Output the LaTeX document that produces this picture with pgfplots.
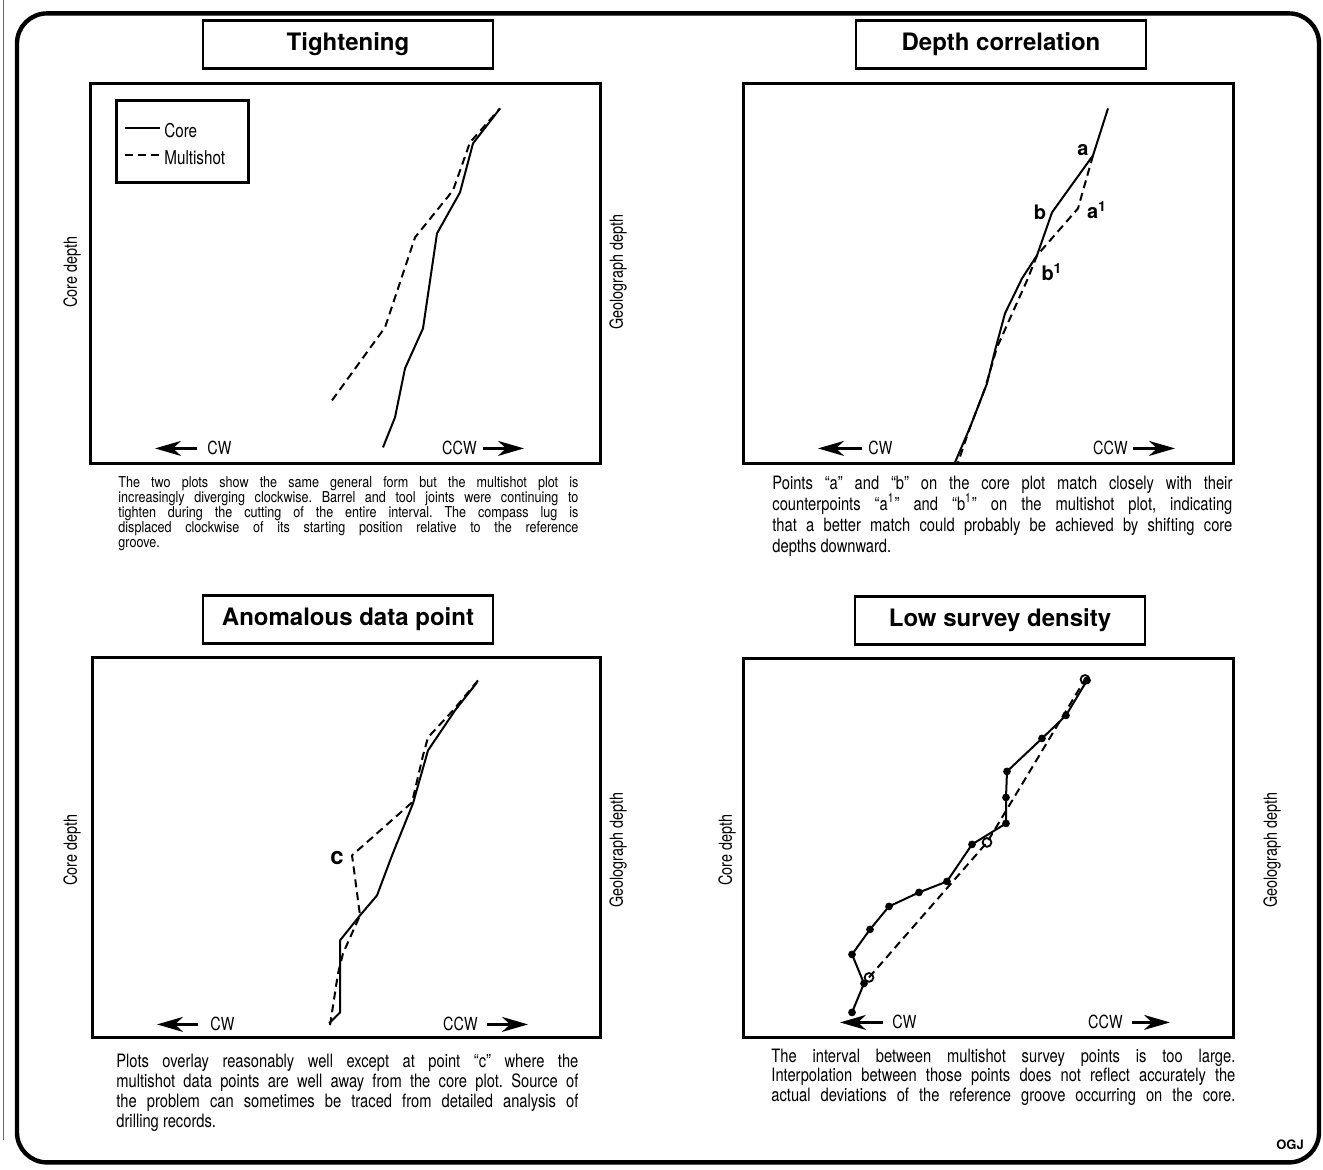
\documentclass[border=0pt]{standalone}
\usepackage{pgfplots}
\pgfplotsset{compat=1.18}
\usepackage{fontspec}
\setmainfont[Ligatures=TeX]{TeX Gyre Heros}
\newfontfamily\cond[FakeStretch=0.80,Ligatures=TeX]{TeX Gyre Heros}
\newfontfamily\condb[FakeStretch=0.84,Ligatures=TeX]{TeX Gyre Heros}
\usetikzlibrary{arrows.meta}
\frenchspacing

\pgfplotsset{
  panel/.style={scale only axis, anchor=south west, xtick=\empty, ytick=\empty,
    y dir=reverse, clip=false, axis line style={line width=1.5pt}},
  core/.style={black, line width=1pt, mark=none},
  multi/.style={black, line width=1pt, dash pattern=on 4pt off 2.5pt, mark=none},
}
\tikzset{
  cwarrow/.style={line width=1.1pt, -{Stealth[length=13pt,width=7.5pt,inset=4pt]}},
  dirlab/.style={font=\cond\fontsize{9}{10}\selectfont, inner sep=0pt},
  ttl/.style={draw, line width=1.3pt, minimum width=145pt, minimum height=24pt,
    font=\bfseries\fontsize{12}{14}\selectfont},
  captxt/.style={anchor=base west, inner sep=0pt},
  ylab/.style={rotate=90, font=\cond\fontsize{9}{10}\selectfont},
}
\newcommand{\jl}[2]{\makebox[#1][s]{#2}}

\begin{document}
\begin{tikzpicture}
\path (0,0) rectangle (661.5pt,-584.5pt);
\begin{scope}[x=0.5pt,y=-0.5pt]
  % outer frame
  \draw[line width=2.2pt, rounded corners=15pt] (17,13) rectangle (1319,1162);
  \draw[line width=0.4pt, black!60] (3,0) -- (3,1140);
  % titles
  \node[ttl] at (348,44) {Tightening};
  \node[ttl] at (1001,44) {Depth correlation};
  \node[ttl] at (348,619) {Anomalous data point};
  \node[ttl] at (1000,620) {Low survey density};
  % axis side labels
  \node[ylab] at (72,272) {Core depth};
  \node[ylab] at (618,272) {Geolograph depth};
  \node[ylab] at (72,850) {Core depth};
  \node[ylab] at (618,850) {Geolograph depth};
  \node[ylab] at (727,850) {Core depth};
  \node[ylab] at (1272,850) {Geolograph depth};
  % caption 1
  \begin{scope}[every node/.style={captxt, font=\condb\fontsize{7.5}{7.5}\selectfont}]
    \node at (118,487) {\jl{230pt}{The two plots show the same general form but the multishot plot is}};
    \node at (118,502) {\jl{230pt}{increasingly diverging clockwise. Barrel and tool joints were continuing to}};
    \node at (118,517) {\jl{230pt}{tighten during the cutting of the entire interval. The compass lug is}};
    \node at (118,532) {\jl{230pt}{displaced clockwise of its starting position relative to the reference}};
    \node at (118,547) {groove.};
  \end{scope}
  % caption 2
  \begin{scope}[every node/.style={captxt, font=\cond\fontsize{9.2}{10}\selectfont}]
    \node at (772,489) {\jl{230pt}{Points “a” and “b” on the core plot match closely with their}};
    \node at (772,510) {\jl{230pt}{counterpoints “a\textsuperscript{1}” and “b\textsuperscript{1}” on the multishot plot, indicating}};
    \node at (772,531) {\jl{230pt}{that a better match could probably be achieved by shifting core}};
    \node at (772,552) {depths downward.};
  % caption 3
    \node at (116,1067) {\jl{231pt}{Plots overlay reasonably well except at point “c” where the}};
    \node at (116,1087) {\jl{231pt}{multishot data points are well away from the core plot. Source of}};
    \node at (116,1107) {\jl{231pt}{the problem can sometimes be traced from detailed analysis of}};
    \node at (116,1127) {drilling records.};
  % caption 4
    \node at (771,1062) {\jl{232pt}{The interval between multishot survey points is too large.}};
    \node at (771,1081) {\jl{232pt}{Interpolation between those points does not reflect accurately the}};
    \node at (771,1101) {\jl{232pt}{actual deviations of the reference groove occurring on the core.}};
  \end{scope}
  \node[font=\bfseries\fontsize{6.5}{8}\selectfont] at (1290,1144) {OGJ};
\end{scope}

% ---------- Panel 1: Tightening ----------
\begin{axis}[panel, at={(45pt,-231.5pt)}, width=255pt, height=190pt,
  xmin=90, xmax=600, ymin=83, ymax=463]
  \addplot[multi] coordinates {(332,400) (385,327) (415,237) (453,190) (470,142) (500,108)};
  \addplot[core] coordinates {(383,447) (395,417) (405,368) (423,328) (437,233) (460,192) (473,143) (497,112) (500,108)};
  \draw[line width=1.5pt] (116,100) rectangle (248,182);
  \draw[line width=1pt] (125,128) -- (160,128);
  \draw[line width=1pt, dash pattern=on 4pt off 2.5pt] (125,155) -- (160,155);
  \node[anchor=west, inner sep=0pt, font=\cond\fontsize{9.5}{10}\selectfont] at (164,130) {Core};
  \node[anchor=west, inner sep=0pt, font=\cond\fontsize{9.5}{10}\selectfont] at (164,157) {Multishot};
  \draw[cwarrow] (197,448) -- (155,448);
  \node[dirlab, anchor=west] at (207,448) {CW};
  \node[dirlab, anchor=east] at (477,448) {CCW};
  \draw[cwarrow] (483,448) -- (524,448);
\end{axis}

% ---------- Panel 2: Depth correlation ----------
\begin{axis}[panel, at={(371.5pt,-231.5pt)}, width=245pt, height=190pt,
  xmin=743, xmax=1233, ymin=83, ymax=463]
  \addplot[multi] coordinates {(1093,155) (1078,208) (1037,255) (1027,280) (997,347) (985,388) (970,427) (958,462)};
  \addplot[core] coordinates {(1108,108) (1093,155) (1052,212) (1037,255) (1022,278) (1005,313) (995,350) (987,383) (970,427) (955,462)};
  \node[font=\bfseries\fontsize{10}{12}\selectfont] at (1083,150) {a};
  \node[font=\bfseries\fontsize{10}{12}\selectfont] at (1097,210) {a\textsuperscript{1}};
  \node[font=\bfseries\fontsize{10}{12}\selectfont] at (1040,212) {b};
  \node[font=\bfseries\fontsize{10}{12}\selectfont] at (1052,272) {b\textsuperscript{1}};
  \draw[cwarrow] (862,448) -- (818,448);
  \node[dirlab, anchor=west] at (868,448) {CW};
  \node[dirlab, anchor=east] at (1128,448) {CCW};
  \draw[cwarrow] (1133,448) -- (1175,448);
\end{axis}

% ---------- Panel 3: Anomalous data point ----------
\begin{axis}[panel, at={(46pt,-518.5pt)}, width=254pt, height=190pt,
  xmin=92, xmax=600, ymin=657, ymax=1037]
  \addplot[multi] coordinates {(478,680) (453,710) (428,737) (423,755) (412,802) (352,855) (353,862) (360,915) (343,953) (338,973) (330,1025)};
  \addplot[core] coordinates {(477,682) (455,710) (428,750) (413,803) (392,855) (377,895) (360,915) (340,940) (340,1012) (329,1023)};
  \node[font=\bfseries\fontsize{12}{14}\selectfont] at (337,858) {c};
  \draw[cwarrow] (198,1024) -- (157,1024);
  \node[dirlab, anchor=west] at (210,1024) {CW};
  \node[dirlab, anchor=east] at (478,1024) {CCW};
  \draw[cwarrow] (487,1024) -- (528,1024);
\end{axis}

% ---------- Panel 4: Low survey density ----------
\begin{axis}[panel, at={(371.5pt,-518.5pt)}, width=245pt, height=189.5pt,
  xmin=743, xmax=1233, ymin=658, ymax=1037]
  \addplot[core, mark=*, mark size=1.4pt] coordinates {(852,1012) (864,983) (852,954) (870,929) (889,906) (919,892) (947,881) (972,844) (1006,823) (1006,797) (1007,771) (1042,738) (1066,715) (1087,680)};
  \addplot[multi, mark=o, mark size=2.2pt, mark options={solid, fill=white, line width=0.9pt}] coordinates {(869,977) (987,842) (1085,679)};
  \draw[cwarrow] (883,1022) -- (840,1022);
  \node[dirlab, anchor=west] at (892,1022) {CW};
  \node[dirlab, anchor=east] at (1123,1022) {CCW};
  \draw[cwarrow] (1132,1022) -- (1170,1022);
\end{axis}
\end{tikzpicture}
\end{document}
